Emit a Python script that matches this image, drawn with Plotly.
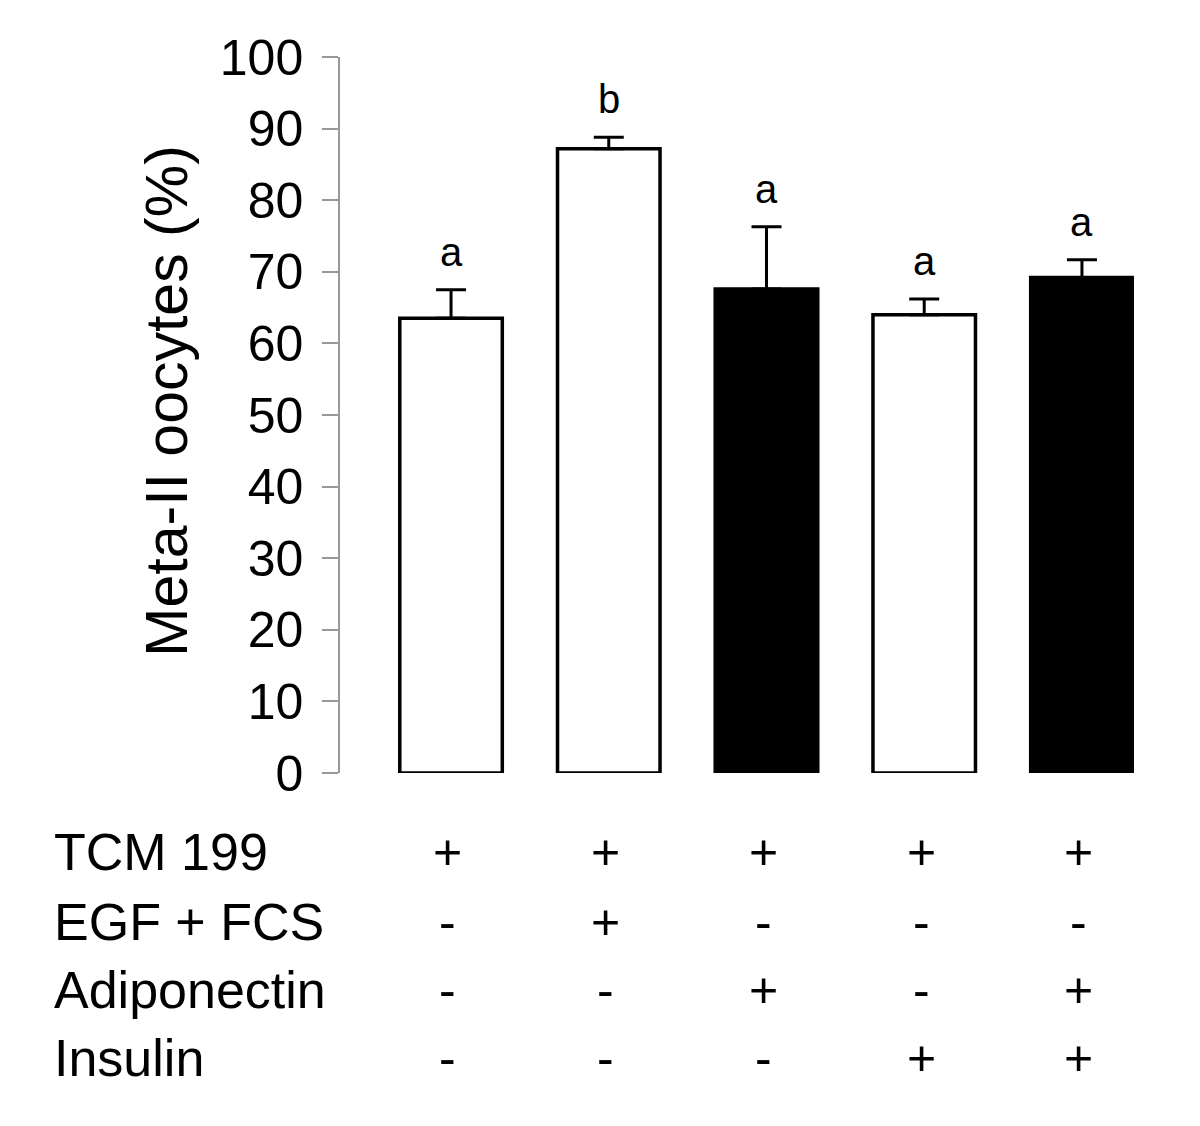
import plotly.graph_objects as go

# bar groups, values and error (upper SEM)
groups = ["1", "2", "3", "4", "5"]
meta2 = [63.5, 87.2, 67.6, 64.0, 69.2]
sem = [4.0, 1.6, 8.7, 2.2, 2.5]
letters = ["a", "b", "a", "a", "a"]
adiponectin_on = [False, False, True, False, True]

# treatment table under the chart
row_names = ["TCM 199", "EGF + FCS", "Adiponectin", "Insulin"]
tcm = ["+", "+", "+", "+", "+"]
egf_fcs = ["-", "+", "-", "-", "-"]
adipo = ["-", "-", "+", "-", "+"]
insulin = ["-", "-", "-", "+", "+"]
rows = [tcm, egf_fcs, adipo, insulin]

font = "Liberation Sans, Arial, Helvetica, sans-serif"
x = list(range(len(groups)))

fig = go.Figure()
fig.add_trace(go.Bar(
    x=x, y=meta2,
    marker=dict(color=["black" if a else "white" for a in adiponectin_on],
                line=dict(color="black", width=3.5)),
    error_y=dict(type="data", array=sem, arrayminus=[0] * len(sem), symmetric=False,
                 color="black", thickness=3, width=15),
    width=0.65,
    showlegend=False,
))

for xi, v, e, l in zip(x, meta2, sem, letters):
    fig.add_annotation(x=xi, y=v + e, text=l, showarrow=False, yanchor="bottom",
                       yshift=14, font=dict(size=40, color="black", family=font))

row_y = [-0.110, -0.208, -0.303, -0.398]
for name, ry, marks in zip(row_names, row_y, rows):
    fig.add_annotation(x=-0.363, xref="paper", y=ry, yref="paper", text=name,
                       showarrow=False, xanchor="left", yanchor="middle",
                       font=dict(size=52, color="black", family=font))
    for xi, m in zip(x, marks):
        fig.add_annotation(x=xi - 0.02, xref="x", y=ry, yref="paper", text=m,
                           showarrow=False, xanchor="center", yanchor="middle",
                           font=dict(size=50, color="black", family=font))

fig.add_annotation(x=-0.262, xref="paper", y=0.52, yref="paper",
                   text="Meta-II oocytes (%)", textangle=-90, showarrow=False,
                   font=dict(size=59, color="black", family=font))

# page body has an 8px margin, so margins are shifted to keep the plot area in place
fig.update_layout(
    width=1200, height=1126,
    margin=dict(l=332, r=74, t=49, b=361),
    paper_bgcolor="white", plot_bgcolor="white",
    xaxis=dict(range=[-0.704, 4.33], showticklabels=False, showline=False,
               showgrid=False, zeroline=False, ticks=""),
    yaxis=dict(range=[0, 100], dtick=10, showgrid=False, zeroline=False,
               showline=True, linecolor="#999999", linewidth=1.5,
               ticks="outside", ticklen=16, tickcolor="#999999", tickwidth=1.5,
               ticklabelstandoff=9,
               tickfont=dict(size=50, color="black", family=font)),
)

fig.write_html("out.html")
